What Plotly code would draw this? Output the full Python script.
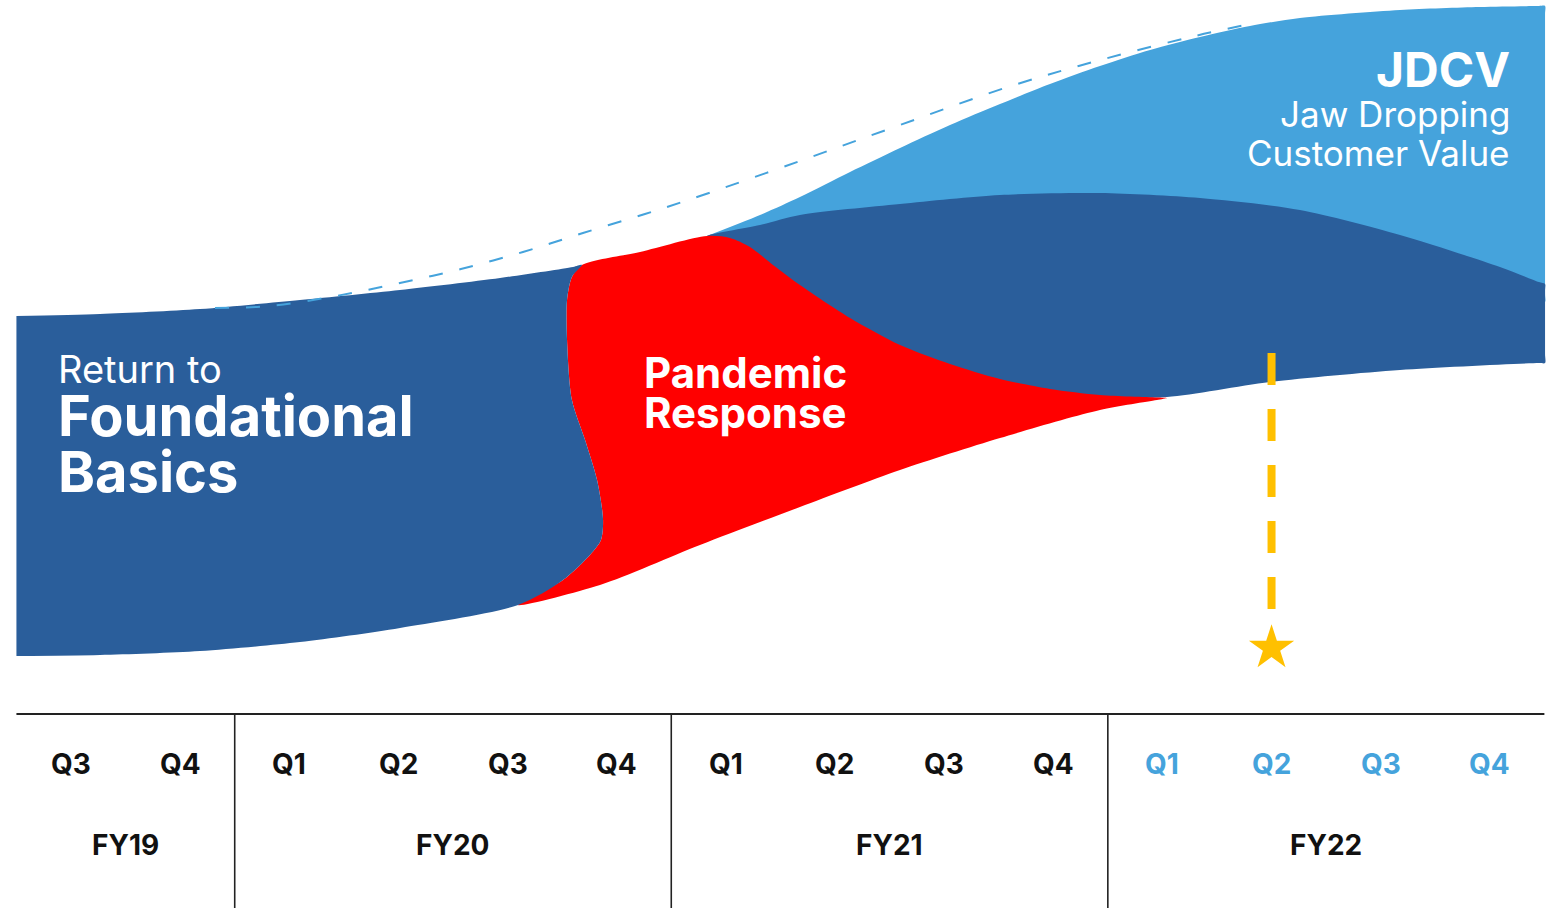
import plotly.graph_objects as go

# ---------------- data (x = quarter index from Q3 FY19, y = height above timeline) ----------------
quarter_labels = ["Q3", "Q4", "Q1", "Q2", "Q3", "Q4", "Q1", "Q2", "Q3", "Q4", "Q1", "Q2", "Q3", "Q4"]
quarter_pos = list(range(14))
future_from = 10  # FY22 quarters shown in light blue
fy_labels = ["FY19", "FY20", "FY21", "FY22"]
fy_centers = [0.5, 3.5, 7.5, 11.5]
fy_dividers = [1.5, 5.5, 9.5]
axis_start, axis_end = -0.5, 13.5

# "Return to Foundational Basics" phase outline
basics_x = [-0.5, 0.266, 1.182, 2.098, 3.014, 3.931, 4.60, 4.682, 4.59, 4.545, 4.545, 4.59, 4.71,
            4.82, 4.875, 4.856, 4.755, 4.508, 4.096, 3.015, 2.098, 1.182, 0.266, -0.5]
basics_y = [398, 400, 405, 414, 424, 436, 447, 449, 437, 414, 374, 314, 274,
            234, 194, 174, 159, 134, 109, 86, 72, 63, 59, 58]

# "Pandemic Response" phase outline
pandemic_x = [4.096, 4.508, 4.755, 4.856, 4.875, 4.82, 4.71, 4.59, 4.545, 4.545, 4.59, 4.682,
              5.214, 5.827, 6.038, 6.221, 6.432, 6.679, 7.138, 7.596, 8.054, 8.512, 8.97, 9.428, 9.95,
              10.042, 9.95, 9.428, 8.512, 7.596, 6.679, 5.763, 4.847, 4.096]
pandemic_y = [109, 134, 159, 174, 194, 234, 274, 314, 374, 414, 437, 449,
              462, 478, 476, 467, 449, 429, 396, 369, 350, 335, 325, 319, 316.5,
              316, 314, 304, 276, 244, 207, 169, 129, 109]

# continuing core business band (right)
core_x = [5.827, 6.313, 6.679, 7.596, 8.512, 9.428, 10.344, 11.26, 12.177, 13.093, 13.45, 13.506,
          13.506, 13.506, 13.506, 13.506, 13.45, 12.177, 10.986, 10.042, 9.428, 8.512, 7.596, 6.679,
          6.221, 5.946, 5.827]
core_y = [478, 489, 499, 510, 519, 521, 516, 504, 479, 447, 432, 430,
          424, 395, 360, 351, 351, 344, 332, 317, 317, 331, 364, 424,
          462, 476, 478]

# JDCV band outline
jdcv_x = [5.827, 6.313, 6.679, 7.138, 7.596, 8.054, 8.512, 8.97, 9.428, 9.887, 10.344, 10.802,
          11.26, 12.177, 12.91, 13.45, 13.506, 13.506, 13.506, 13.506, 13.506, 13.506, 13.45,
          12.177, 10.344, 8.512, 6.679, 5.827]
jdcv_y = [478, 499, 517, 542, 566, 589, 610, 630, 648, 664, 677, 688,
          696, 704, 707, 708, 708, 700, 620, 520, 420, 412, 410,
          464, 509, 512, 489, 476]

# dashed "expected trajectory" line
trend_x = [1.319, 1.823, 2.428, 3.014, 3.573, 4.141, 4.691, 5.259, 5.763, 6.679, 7.596, 8.613,
           9.465, 10.299, 10.802]
trend_y = [406, 408, 418, 431, 445, 462, 481, 500, 518, 553, 589, 628, 655, 678, 690]

# milestone marker
milestone_x = 11
milestone_top, milestone_bottom, milestone_star = 361, 105, 66

DARK_BLUE = "#2A5E9B"
LIGHT_BLUE = "#45A3DC"
RED = "#FF0000"
YELLOW = "#FFC000"
FONT = "Inter"

fig = go.Figure()

def band(xs, ys, color):
    fig.add_trace(go.Scatter(x=xs, y=ys, fill="toself", fillcolor=color, mode="lines",
                             line=dict(color=color, width=0, shape="spline", smoothing=0.8),
                             hoverinfo="skip"))

band(jdcv_x, jdcv_y, LIGHT_BLUE)
band(core_x, core_y, DARK_BLUE)
band(pandemic_x, pandemic_y, RED)
band(basics_x, basics_y, DARK_BLUE)

fig.add_trace(go.Scatter(x=trend_x, y=trend_y, mode="lines",
                         line=dict(color=LIGHT_BLUE, width=2, dash="14px,17px", shape="spline"),
                         hoverinfo="skip"))

# milestone
fig.add_trace(go.Scatter(x=[milestone_x, milestone_x], y=[milestone_top, milestone_bottom], mode="lines",
                         line=dict(color=YELLOW, width=8, dash="32px,24px"), hoverinfo="skip"))
fig.add_trace(go.Scatter(x=[milestone_x], y=[milestone_star], mode="markers",
                         marker=dict(symbol="star", size=34, color=YELLOW, line=dict(width=0)),
                         hoverinfo="skip"))

# timeline axis
fig.add_trace(go.Scatter(x=[axis_start, axis_end], y=[0, 0], mode="lines",
                         line=dict(color="#222222", width=2), hoverinfo="skip"))
for d in fy_dividers:
    fig.add_trace(go.Scatter(x=[d, d], y=[0, -200], mode="lines",
                             line=dict(color="#222222", width=1.6), hoverinfo="skip"))

annotations = []
for i, (q, lab) in enumerate(zip(quarter_pos, quarter_labels)):
    annotations.append(dict(x=q, y=-50, text=lab, showarrow=False, xanchor="center", yanchor="middle",
                            font=dict(family=FONT, size=28, weight=700,
                                      color=LIGHT_BLUE if i >= future_from else "#111111")))
for c, lab in zip(fy_centers, fy_labels):
    annotations.append(dict(x=c, y=-131, text=lab, showarrow=False, xanchor="center", yanchor="middle",
                            font=dict(family=FONT, size=28, weight=700, color="#111111")))

def label(x, y, text, size, weight, anchor):
    annotations.append(dict(x=x, y=y, text=text, showarrow=False, xanchor=anchor, yanchor="middle",
                            borderpad=0,
                            font=dict(family=FONT, size=size, weight=weight, color="white")))

label(-0.125, 345, "Return to", 38, 400, "left")
label(-0.125, 298, "Foundational", 56, 700, "left")
label(-0.125, 242, "Basics", 56, 700, "left")
label(5.245, 342, "Pandemic", 42, 700, "left")
label(5.245, 302, "Response", 42, 700, "left")
label(13.195, 645, "JDCV", 48, 700, "right")
label(13.195, 600, "Jaw Dropping", 35, 400, "right")
label(13.195, 561, "Customer Value", 35, 400, "right")

fig.update_layout(
    width=1560, height=908,
    margin=dict(l=0, r=0, t=0, b=0),
    paper_bgcolor="white", plot_bgcolor="white",
    showlegend=False,
    xaxis=dict(range=[-0.6505, 13.643], visible=False, fixedrange=True),
    yaxis=dict(range=[-194, 714], visible=False, fixedrange=True),
    annotations=annotations,
)

fig.write_html("out.html", config={"displayModeBar": False},
               post_script="document.body.style.margin='0px';document.body.style.overflow='hidden';")
